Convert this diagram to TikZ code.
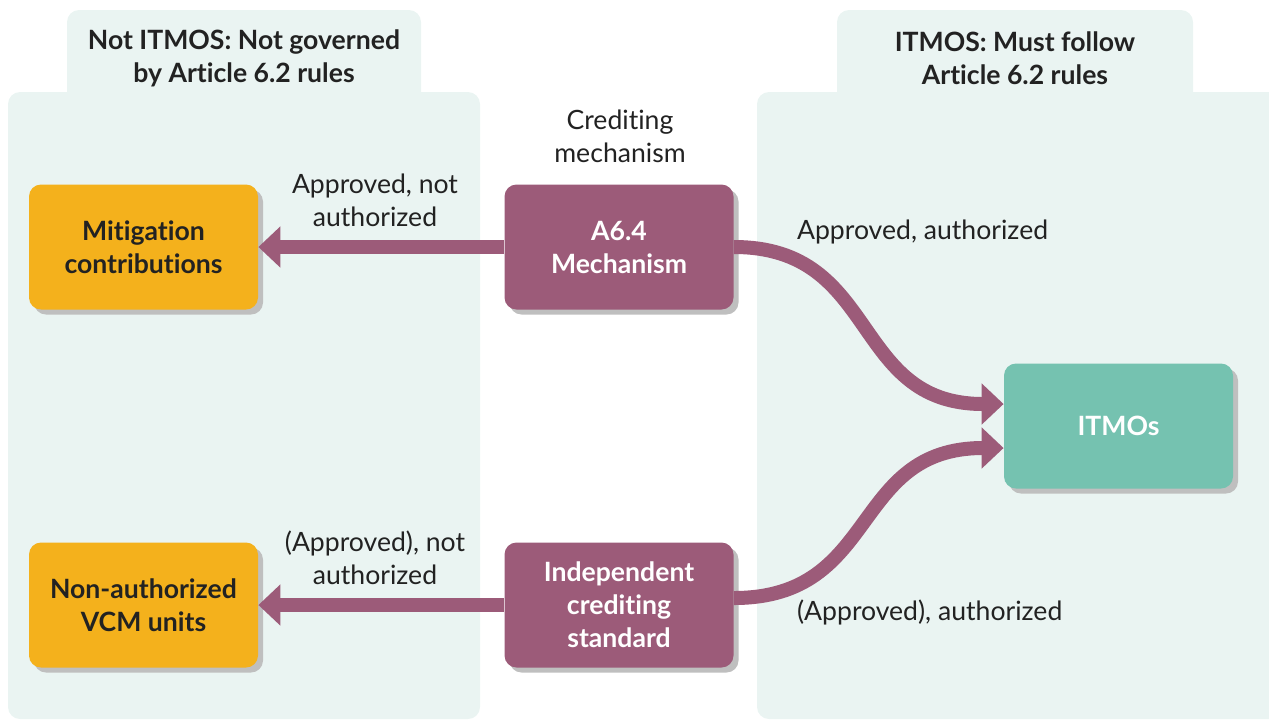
\documentclass[tikz,border=0pt]{standalone}
\usepackage{fontspec}
\setmainfont{Lato}[RawFeature={-liga}]
\usetikzlibrary{arrows.meta,shadows}
\definecolor{panelbg}{HTML}{EAF4F2}
\definecolor{unitorange}{HTML}{F4B11C}
\definecolor{mechpurple}{HTML}{9C5B79}
\definecolor{itmogreen}{HTML}{75C2B0}
\definecolor{textdark}{HTML}{222222}
\begin{document}
\begin{tikzpicture}[x=0.5pt,y=-0.5pt,
    every node/.style={font=\fontsize{13.3}{16.5}\selectfont, text=textdark, align=center},
    head/.style={font=\fontsize{13.3}{16.5}\selectfont\bfseries},
    unit/.style={rounded corners=6pt, minimum width=114.5pt, minimum height=62.5pt,
      font=\fontsize{13.3}{16.5}\selectfont\bfseries,
      drop shadow={shadow xshift=2.5pt, shadow yshift=-2.5pt, fill=black!25, opacity=1}},
    flow/.style={line width=7pt, draw=mechpurple, -{Triangle[width=20pt,length=11pt]}}]
  \useasboundingbox (0,0) rectangle (1269,720);
  % panels
  \fill[panelbg, rounded corners=6pt] (67,10) rectangle (421,120);
  \fill[panelbg, rounded corners=6pt] (8,92) rectangle (480,719);
  \fill[panelbg, rounded corners=6pt] (837,10) rectangle (1193,120);
  \fill[panelbg, rounded corners=6pt] (757,92) rectangle (1300,719);
  \node[head] (nothead) at (244,58) {Not ITMOS: Not governed\\by Article 6.2 rules};
  \node[head] (ithead) at (1015,58) {ITMOS: Must follow\\Article 6.2 rules};
  % boxes
  \node[unit, fill=unitorange] (mitig) at (143.5,247) {Mitigation\\contributions};
  \node[unit, fill=unitorange] (vcm) at (143.5,605) {Non-authorized\\VCM units};
  \node[unit, fill=mechpurple, text=white] (a6) at (619,247) {A6.4\\Mechanism};
  \node[unit, fill=mechpurple, text=white] (indep) at (619,605) {Independent\\crediting\\standard};
  \node[unit, fill=itmogreen, text=white] (itmos) at (1118.5,426) {ITMOs};
  % labels
  \node (crediting) at (620,136) {Crediting\\mechanism};
  \node (apnot) at (375,200) {Approved, not\\authorized};
  \node (apnot2) at (375,558) {(Approved), not\\authorized};
  \node[anchor=west] (apauth) at (790,232) {Approved, authorized};
  \node[anchor=west] (apauth2) at (790,612) {(Approved), authorized};
  \begin{scope}[flow]
    \draw (a6.west) -- (mitig.east);
    \draw (indep.west) -- (vcm.east);
    \draw (a6.east) .. controls (880,247) and (850,404) .. ([yshift=11pt]itmos.west);
    \draw ([yshift=3.5pt]indep.east) .. controls (880,598) and (850,448) .. ([yshift=-11pt]itmos.west);
  \end{scope}
\end{tikzpicture}
\end{document}
